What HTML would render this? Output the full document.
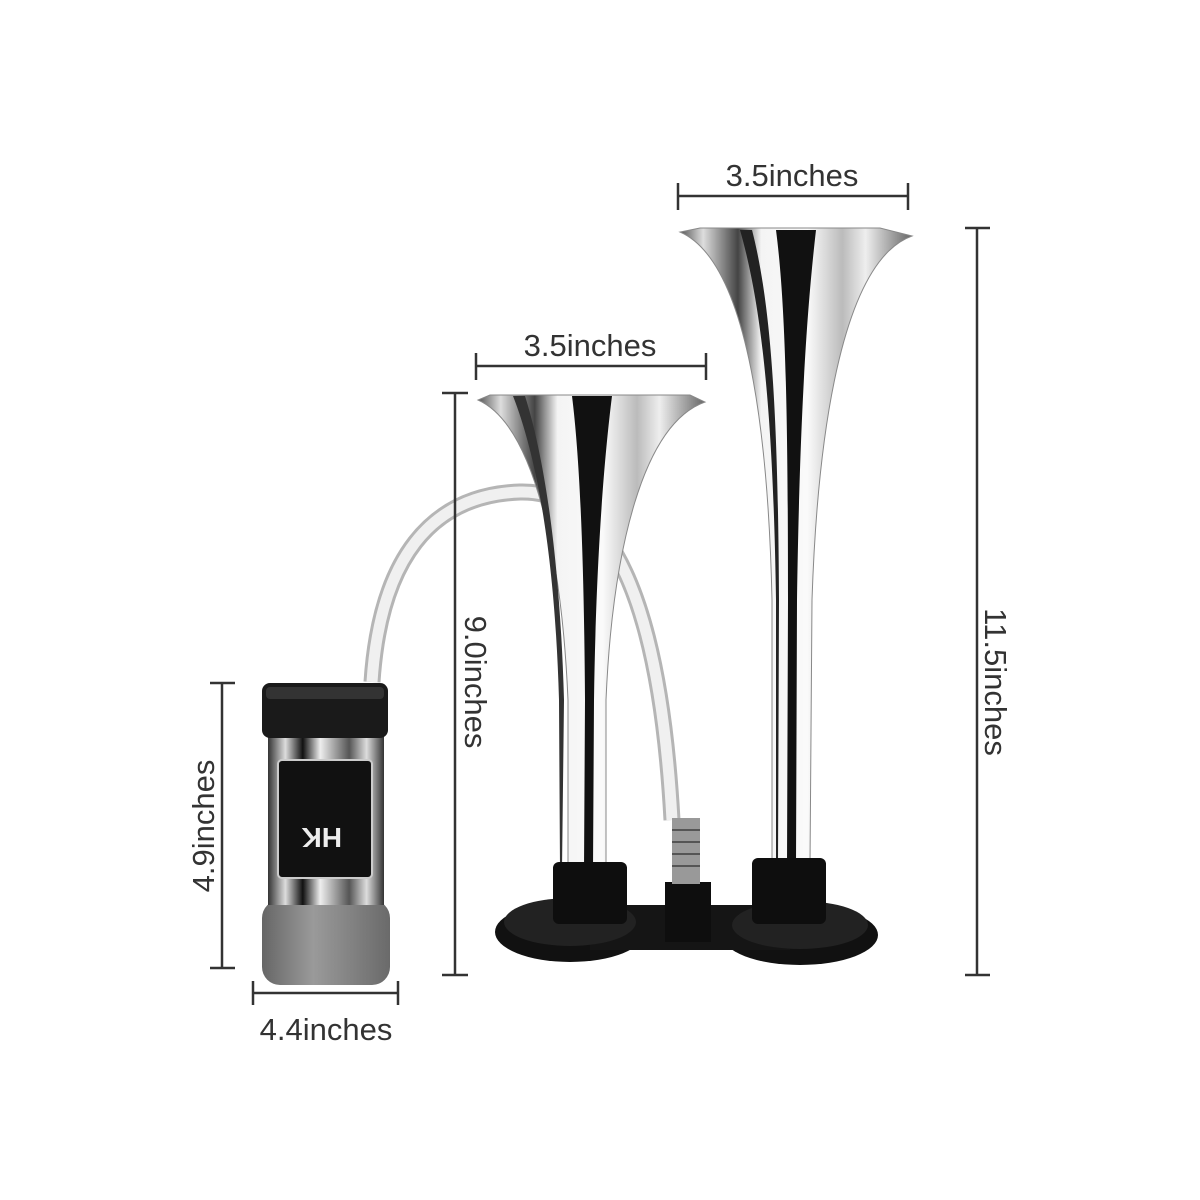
<!DOCTYPE html>
<html><head><style>
html,body{margin:0;padding:0;background:#fff;}
svg{display:block;}
text{font-family:"Liberation Sans",sans-serif;font-size:31px;fill:#333;}
</style></head><body>
<svg width="1200" height="1200" viewBox="0 0 1200 1200" xmlns="http://www.w3.org/2000/svg">
<defs>
<linearGradient id="chrome" x1="0" y1="0" x2="1" y2="0">
<stop offset="0" stop-color="#555"/><stop offset="0.1" stop-color="#ddd"/><stop offset="0.25" stop-color="#444"/><stop offset="0.35" stop-color="#f4f4f4"/><stop offset="0.55" stop-color="#fafafa"/><stop offset="0.7" stop-color="#bbb"/><stop offset="0.8" stop-color="#eee"/><stop offset="1" stop-color="#666"/>
</linearGradient>
<linearGradient id="body" x1="0" y1="0" x2="1" y2="0">
<stop offset="0" stop-color="#333"/><stop offset="0.15" stop-color="#ddd"/><stop offset="0.3" stop-color="#111"/><stop offset="0.45" stop-color="#eee"/><stop offset="0.7" stop-color="#555"/><stop offset="0.85" stop-color="#ddd"/><stop offset="1" stop-color="#333"/>
</linearGradient>
<linearGradient id="grey" x1="0" y1="0" x2="1" y2="0">
<stop offset="0" stop-color="#666"/><stop offset="0.4" stop-color="#9a9a9a"/><stop offset="1" stop-color="#6a6a6a"/>
</linearGradient>
</defs>
<rect width="1200" height="1200" fill="#fff"/>

<path d="M372,682 C380,560 430,495 520,492 C610,490 660,600 672,820" fill="none" stroke="#b5b5b5" stroke-width="17"/>
<path d="M372,682 C380,560 430,495 520,492 C610,490 660,600 672,820" fill="none" stroke="#f0f0f0" stroke-width="11"/>

<path d="M680,232 C745,260 768,420 772,600 L772,865 L810,865 L812,600 C818,420 845,260 912,236 L880,228 L700,228 Z" fill="url(#chrome)" stroke="#888" stroke-width="1"/>
<path d="M776,230 L816,230 C808,300 800,400 797,600 L796,865 L787,865 L788,600 C788,400 785,300 776,230 Z" fill="#111"/>
<path d="M740,230 L752,230 C770,300 778,400 779,600 L778,865 L776,865 L776,600 C773,400 760,300 740,230Z" fill="#222"/>
<path d="M478,400 C535,425 562,560 568,700 L568,870 L606,870 L606,700 C612,560 640,425 705,402 L690,395 L490,395 Z" fill="url(#chrome)" stroke="#888" stroke-width="1"/>
<path d="M572,396 L612,396 C604,460 596,560 594,700 L593,870 L584,870 L585,700 C584,560 580,460 572,396Z" fill="#111"/>
<path d="M513,396 L525,396 C545,460 560,560 564,700 L562,870 L560,870 L559,700 C555,560 538,460 513,396Z" fill="#333"/>

<ellipse cx="570" cy="932" rx="75" ry="30" fill="#111"/>
<ellipse cx="800" cy="935" rx="78" ry="30" fill="#111"/>
<rect x="590" y="905" width="200" height="45" fill="#151515"/>
<ellipse cx="570" cy="922" rx="66" ry="24" fill="#222"/>
<ellipse cx="800" cy="925" rx="68" ry="24" fill="#222"/>
<rect x="553" y="862" width="74" height="62" rx="6" fill="#0e0e0e"/>
<rect x="752" y="858" width="74" height="66" rx="6" fill="#0e0e0e"/>
<rect x="665" y="882" width="46" height="60" fill="#0e0e0e"/>
<rect x="672" y="818" width="28" height="66" fill="#999"/>
<g stroke="#555" stroke-width="2"><line x1="672" y1="830" x2="700" y2="830"/><line x1="672" y1="842" x2="700" y2="842"/><line x1="672" y1="854" x2="700" y2="854"/><line x1="672" y1="866" x2="700" y2="866"/></g>

<rect x="262" y="900" width="128" height="85" rx="18" fill="url(#grey)"/>
<rect x="268" y="735" width="116" height="170" fill="url(#body)"/>
<rect x="278" y="760" width="94" height="118" rx="4" fill="#111" stroke="#ccc" stroke-width="2"/>
<text x="0" y="0" transform="translate(342,828) rotate(180)" style="font-size:28px;fill:#eee;font-weight:bold">HK</text>
<rect x="262" y="683" width="126" height="55" rx="8" fill="#1a1a1a"/>
<rect x="266" y="687" width="118" height="12" rx="4" fill="#333"/>

<g stroke="#333" stroke-width="2.5" fill="none">
<line x1="678" y1="196" x2="908" y2="196"/><line x1="678" y1="183" x2="678" y2="210"/><line x1="908" y1="183" x2="908" y2="210"/>
<line x1="476" y1="366" x2="706" y2="366"/><line x1="476" y1="353" x2="476" y2="380"/><line x1="706" y1="353" x2="706" y2="380"/>
<line x1="977" y1="228" x2="977" y2="975"/><line x1="965" y1="228" x2="990" y2="228"/><line x1="965" y1="975" x2="990" y2="975"/>
<line x1="455" y1="393" x2="455" y2="975"/><line x1="442" y1="393" x2="468" y2="393"/><line x1="442" y1="975" x2="468" y2="975"/>
<line x1="222" y1="683" x2="222" y2="968"/><line x1="210" y1="683" x2="235" y2="683"/><line x1="210" y1="968" x2="235" y2="968"/>
<line x1="253" y1="993" x2="398" y2="993"/><line x1="253" y1="981" x2="253" y2="1005"/><line x1="398" y1="981" x2="398" y2="1005"/>
</g>
<text x="792" y="186" text-anchor="middle">3.5inches</text>
<text x="590" y="356" text-anchor="middle">3.5inches</text>
<text x="326" y="1040" text-anchor="middle">4.4inches</text>
<text transform="translate(985,682) rotate(90)" text-anchor="middle">11.5inches</text>
<text transform="translate(465,682) rotate(90)" text-anchor="middle">9.0inches</text>
<text transform="translate(214,826) rotate(-90)" text-anchor="middle">4.9inches</text>
</svg>
</body></html>
